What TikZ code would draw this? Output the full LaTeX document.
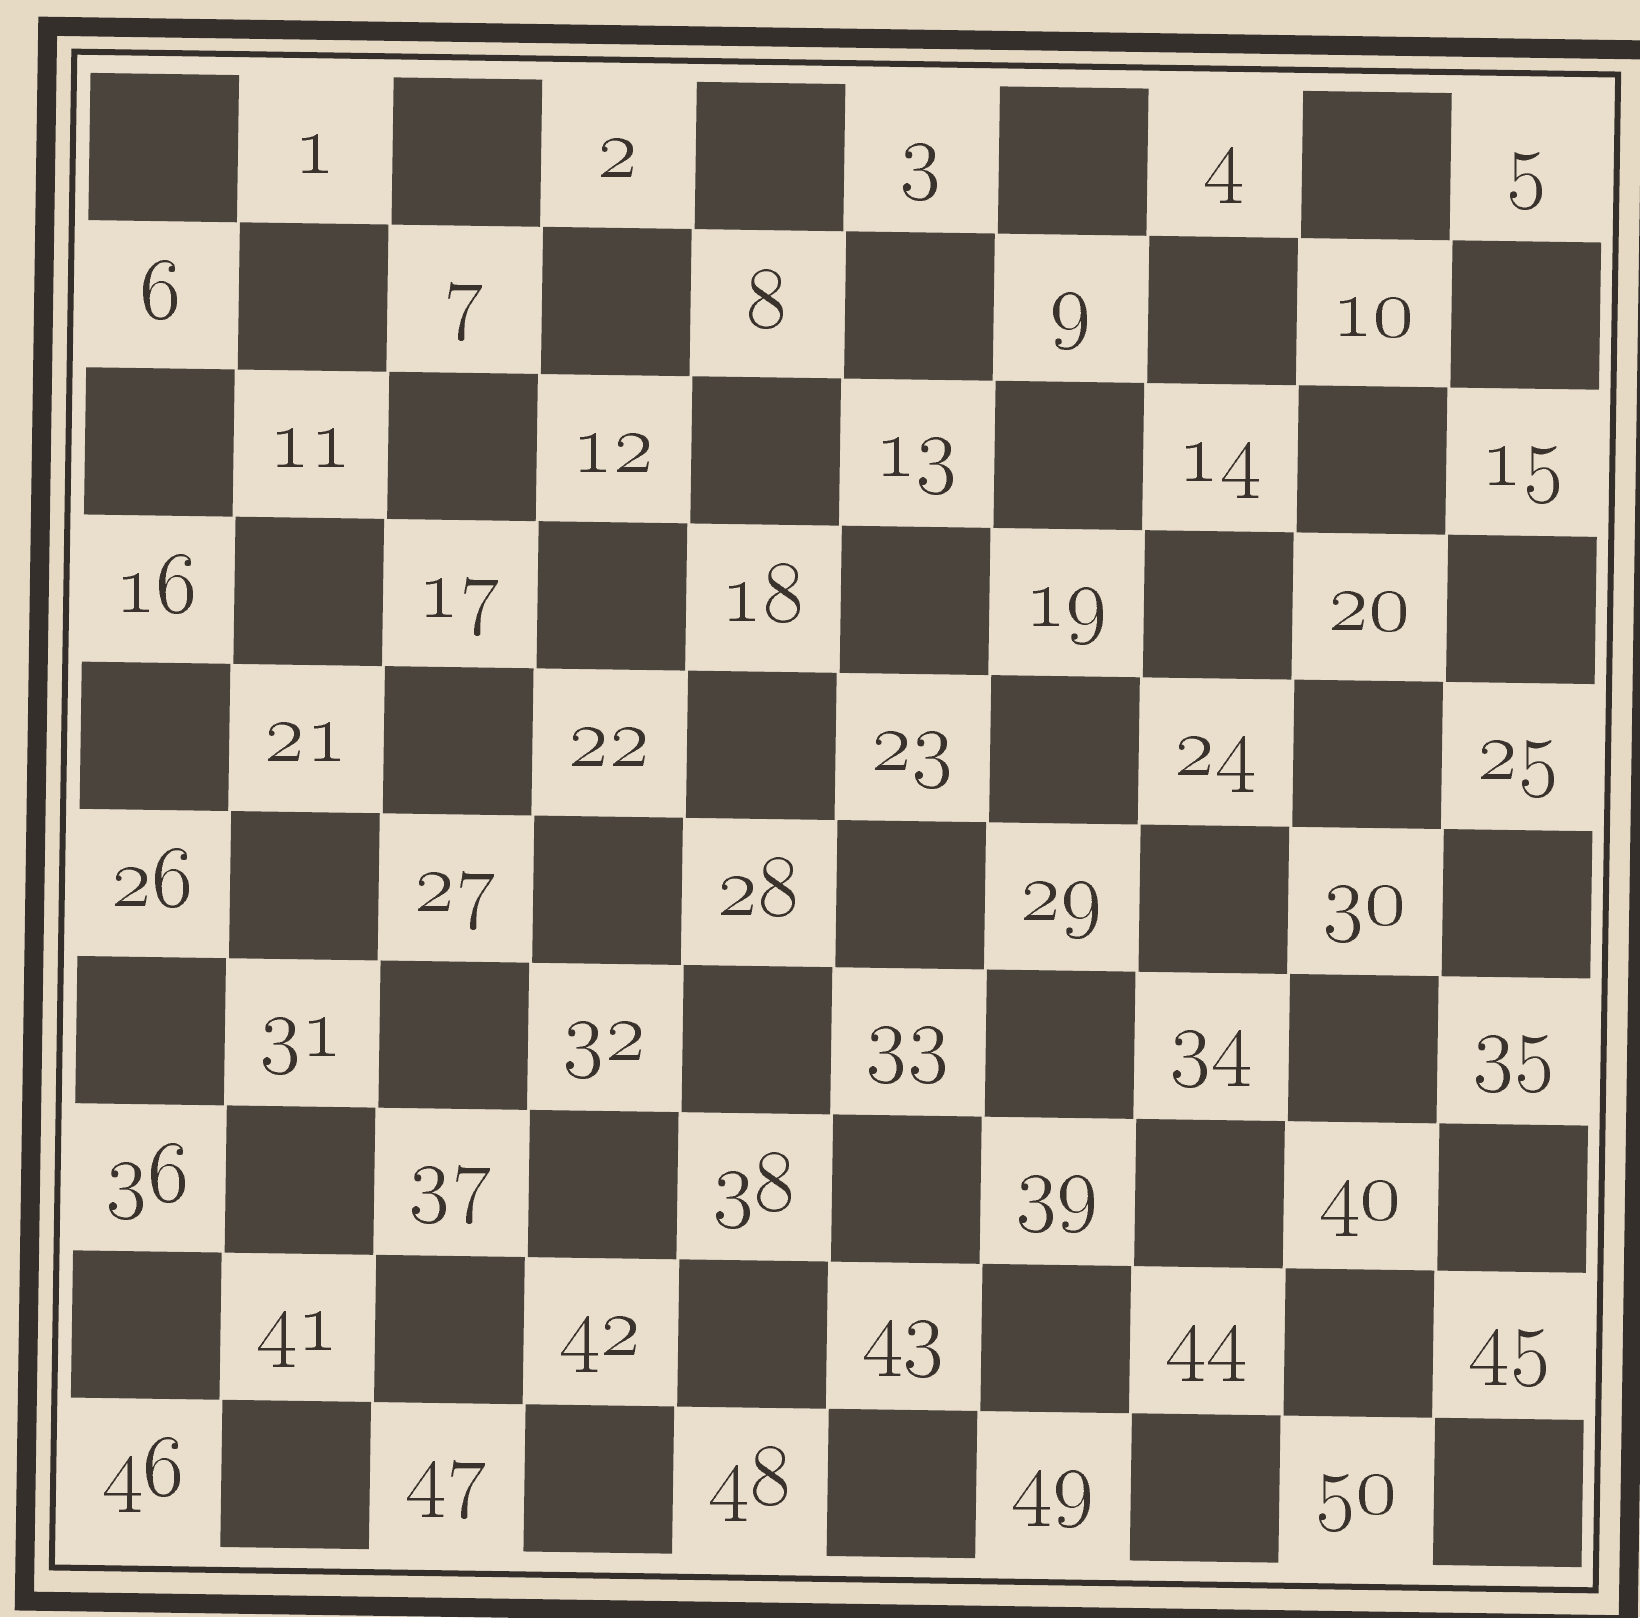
\documentclass[tikz,border=0pt]{standalone}
\usepackage{fix-cm}
\usepackage{tikz}
\usetikzlibrary{positioning}
\definecolor{paper}{HTML}{E6DAC5}
\definecolor{boardpaper}{HTML}{EADFCC}
\definecolor{inkdark}{HTML}{4A443D}
\definecolor{inkline}{HTML}{342F2A}
\definecolor{inktext}{HTML}{3A332D}

\begin{document}
\begin{tikzpicture}[x=0.01cm, y=-0.01cm,
  frameouter/.style={draw=inkline, line width=0.19cm},
  frameinner/.style={draw=inkline, fill=boardpaper, line width=0.06cm},
  darksq/.style={fill=inkdark},
  sqnum/.style={text=inktext, anchor=base, inner sep=0pt, font=\fontsize{25}{30}\selectfont}]
  \useasboundingbox (0,0) rectangle (1640,1617);
  \fill[paper] (0,0) rectangle (1640,1617);
  \clip (0,0) rectangle (1640,1617);
  \begin{scope}[shift={(836,820)}, rotate=-0.85]
    \draw[frameouter] (-800,-782) rectangle (804,793);
    \draw[frameinner] (-773,-757) rectangle (771,759);
    \foreach \r in {0,...,9}{
      \foreach \c in {0,...,9}{
        \pgfmathtruncatemacro{\isdark}{mod(\r+\c,2)==0}
        \pgfmathsetmacro{\xl}{-758+151.6*\c}
        \pgfmathsetmacro{\yt}{-736+147.2*\r}
        \ifnum\isdark=1
          \fill[darksq] (\xl+1.5,\yt) rectangle ++(148.6,147.2);
        \else
          \pgfmathtruncatemacro{\num}{5*\r+div(\c,2)+1}
          \node[sqnum] (n\num) at (\xl+75.8,\yt+97) {\oldstylenums{\num}};
        \fi
      }
    }
  \end{scope}
\end{tikzpicture}
\end{document}
